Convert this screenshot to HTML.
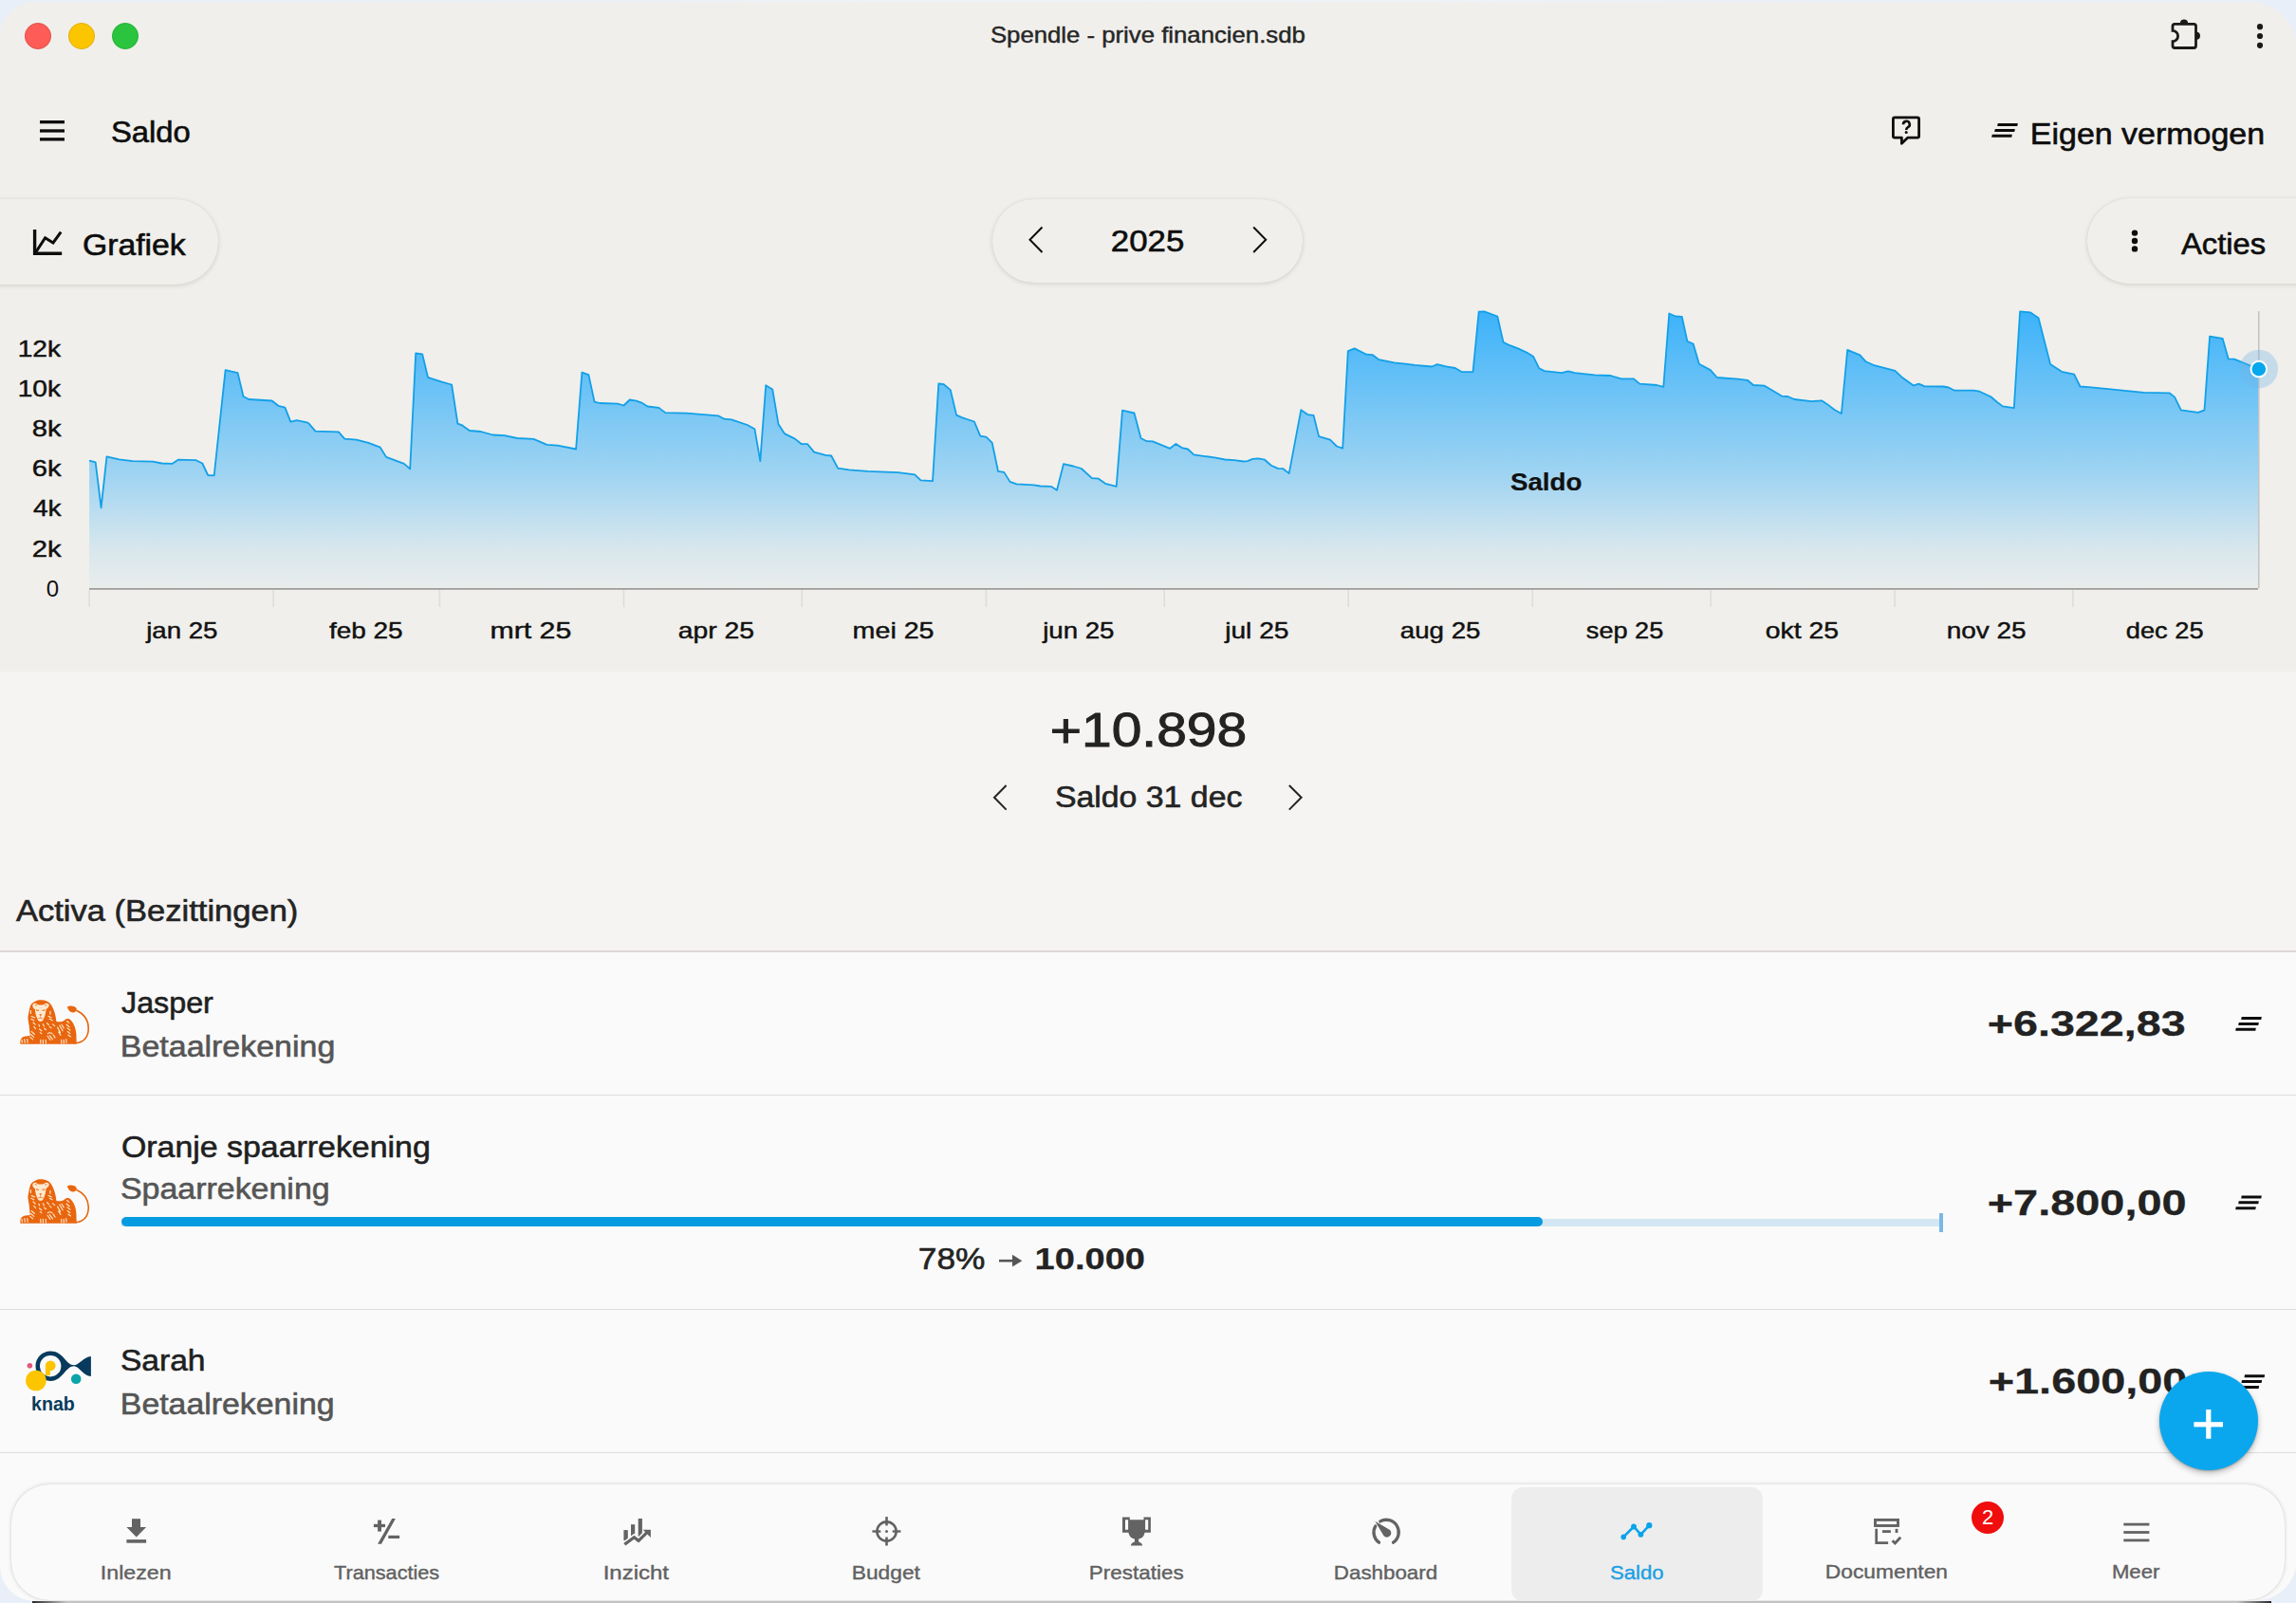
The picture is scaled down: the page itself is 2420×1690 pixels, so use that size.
<!DOCTYPE html>
<html><head><meta charset="utf-8"><style>
html,body{margin:0;padding:0}
body{width:2420px;height:1690px;overflow:hidden;position:relative;background:linear-gradient(90deg,#e9eff8,#eef2f9 50%,#e9eff9);font-family:'Liberation Sans', sans-serif}
.abs{position:absolute}
.t{position:absolute;white-space:pre;line-height:1;font-family:'Liberation Sans', sans-serif}
#win{position:absolute;left:0px;top:1.5px;width:2421px;height:1686.5px;border-radius:37px 50px 45px 37px;overflow:hidden;background:#f0efeb}
.pill{position:absolute;background:#f0efeb;box-shadow:0 1px 5px rgba(40,30,20,0.15),0 0 1px rgba(40,30,20,0.07)}
</style></head><body>
<div class="abs" style="left:34px;top:1687.5px;width:2360px;height:3px;background:linear-gradient(90deg,#262626 0,#c9c9c7 36px,#c9c9c7 2324px,#262626 2360px)"></div>
<div id="win">
 <div class="abs" style="left:-1px;top:706.5px;width:2430px;height:296px;background:#f5f4f2"></div>
 <div class="abs" style="left:-1px;top:1001px;width:2430px;height:700px;background:#fafafa"></div>
 <div class="abs" style="left:-1px;top:1000.7px;width:2430px;height:2.1px;background:#dcd8d5"></div>
 <div class="abs" style="left:-1px;top:1152.2px;width:2430px;height:1.6px;background:#dddddd"></div>
 <div class="abs" style="left:-1px;top:1378.2px;width:2430px;height:1.6px;background:#dddddd"></div>
 <div class="abs" style="left:-1px;top:1529.2px;width:2430px;height:1.6px;background:#dddddd"></div>
</div>
<div id="ov" class="abs" style="left:0;top:0;width:2420px;height:1690px">
<div class="pill" style="left:-60px;top:210px;width:290px;height:90px;border-radius:45px"></div>
<div class="pill" style="left:1046px;top:210px;width:327px;height:88px;border-radius:44px"></div>
<div class="pill" style="left:2200px;top:208.5px;width:300px;height:90.5px;border-radius:45px"></div>
<svg class="abs" style="left:0;top:0" width="2420" height="720" viewBox="0 0 2420 720">
<defs><linearGradient id="gf" gradientUnits="userSpaceOnUse" x1="0" y1="328" x2="0" y2="620">
<stop offset="0" stop-color="#009eff" stop-opacity="0.75"/>
<stop offset="0.6" stop-color="#009eff" stop-opacity="0.33"/>
<stop offset="0.86" stop-color="#009eff" stop-opacity="0.10"/>
<stop offset="1" stop-color="#009eff" stop-opacity="0.03"/>
</linearGradient></defs>
<polygon points="94.1,620 94.1,485.6 100.7,487.3 106.6,535.3 112.5,481.4 125.6,484.4 139.8,486.1 161.1,486.7 170.6,488.5 181.3,488.9 187.8,484.7 206.7,485.2 213.3,488.5 219.2,501.0 225.7,501.3 237.6,390.1 244.1,391.7 250.6,393.1 256.5,418.0 262.4,421.0 286.7,422.5 293.3,427.8 300.4,429.6 306.3,444.7 312.8,443.2 323.5,445.3 325.6,446.6 332.5,454.6 356.9,455.4 363.2,462.6 375.7,463.6 388.3,466.8 400.8,471.7 407.1,481.9 425.9,488.9 432.2,494.4 438.2,372.5 445.2,373.4 451.0,397.8 465.6,402.7 476.1,405.5 482.4,446.6 487.2,448.4 494.9,454.0 506.8,455.0 519.3,458.5 531.8,459.2 545.1,462.0 562.5,462.9 576.4,468.9 587.6,469.6 607.1,473.5 613.4,392.7 620.4,395.1 626.6,423.6 632.2,425.0 651.1,425.7 657.4,427.5 663.7,421.5 670.7,422.6 676.2,424.6 682.5,428.5 694.4,429.9 701.3,435.1 723.6,435.6 757.1,438.3 763.3,441.7 771.0,442.4 787.7,448.0 795.4,452.2 801.3,486.1 807.2,406.2 814.2,410.4 820.5,447.3 826.8,457.1 837.9,462.6 844.9,468.2 851.2,468.2 858.1,476.6 870.0,479.8 876.2,480.5 883.2,493.7 895.0,495.4 914.6,496.8 946.6,498.2 964.2,500.3 970.5,506.3 983.0,507.2 989.3,404.5 994.8,405.2 1001.8,411.1 1008.1,437.6 1014.4,440.3 1026.9,444.5 1033.2,459.6 1039.4,460.6 1045.7,466.8 1052.0,496.8 1058.3,497.9 1064.5,507.9 1071.5,510.3 1089.6,511.4 1096.6,512.5 1107.7,512.8 1114.0,516.7 1121.0,489.1 1131.4,491.5 1139.8,494.0 1150.9,504.2 1157.9,504.7 1164.9,509.8 1176.7,512.8 1183.0,432.7 1195.5,435.5 1202.5,462.0 1208.8,465.2 1215.0,465.4 1233.2,472.8 1239.4,467.9 1245.7,472.1 1252.0,473.5 1258.3,479.4 1280.0,482.4 1291.1,484.5 1300.9,485.2 1310.7,486.5 1314.8,486.1 1320.4,483.8 1326.0,483.3 1333.0,484.7 1339.9,490.7 1346.9,493.9 1352.5,494.2 1358.7,499.1 1371.3,432.2 1378.3,437.1 1384.5,437.8 1390.1,460.1 1402.0,463.6 1408.9,470.5 1415.2,472.6 1420.8,370.2 1427.7,367.4 1440.3,373.7 1446.5,374.1 1453.5,379.2 1469.5,382.4 1483.5,383.8 1491.1,384.8 1509.3,386.5 1514.8,384.1 1523.2,386.2 1533.7,388.0 1540.6,392.1 1552.5,392.1 1558.7,328.6 1564.3,328.4 1578.3,333.5 1584.5,360.8 1590.1,363.6 1600.0,367.4 1609.1,371.6 1616.0,375.7 1622.3,388.3 1627.9,391.1 1646.0,393.2 1653.0,391.4 1659.9,393.2 1680.8,395.3 1697.6,396.0 1708.7,399.4 1722.0,399.4 1728.2,404.6 1746.3,406.0 1753.3,407.8 1759.3,330.5 1765.9,333.5 1772.8,333.9 1778.4,359.7 1784.7,362.5 1790.9,383.8 1802.8,390.1 1809.8,398.0 1832.1,399.7 1841.8,400.8 1848.1,406.0 1859.9,406.7 1878.0,417.6 1884.3,418.0 1891.3,421.0 1909.4,423.1 1920.0,422.3 1925.6,425.9 1933.9,432.2 1940.9,436.0 1947.2,368.8 1960.4,374.4 1966.7,381.3 1974.4,384.8 1997.4,390.8 2004.3,397.4 2016.9,406.4 2022.4,404.7 2028.7,407.4 2048.2,407.5 2053.8,408.5 2060.1,411.7 2080.3,411.7 2086.5,412.7 2098.4,418.3 2104.7,423.8 2110.9,428.4 2122.8,430.1 2129.1,328.4 2140.2,329.5 2148.6,335.3 2161.1,384.1 2173.0,391.8 2186.2,394.6 2192.5,407.5 2201.5,408.1 2219.7,409.9 2259.5,413.8 2286.5,414.3 2292.1,418.6 2298.8,432.3 2316.8,434.8 2323.5,432.3 2329.1,354.6 2342.6,356.8 2348.8,378.4 2355.0,378.7 2380.8,389.1 2380.8,620" fill="url(#gf)"/>
<polyline points="94.1,485.6 100.7,487.3 106.6,535.3 112.5,481.4 125.6,484.4 139.8,486.1 161.1,486.7 170.6,488.5 181.3,488.9 187.8,484.7 206.7,485.2 213.3,488.5 219.2,501.0 225.7,501.3 237.6,390.1 244.1,391.7 250.6,393.1 256.5,418.0 262.4,421.0 286.7,422.5 293.3,427.8 300.4,429.6 306.3,444.7 312.8,443.2 323.5,445.3 325.6,446.6 332.5,454.6 356.9,455.4 363.2,462.6 375.7,463.6 388.3,466.8 400.8,471.7 407.1,481.9 425.9,488.9 432.2,494.4 438.2,372.5 445.2,373.4 451.0,397.8 465.6,402.7 476.1,405.5 482.4,446.6 487.2,448.4 494.9,454.0 506.8,455.0 519.3,458.5 531.8,459.2 545.1,462.0 562.5,462.9 576.4,468.9 587.6,469.6 607.1,473.5 613.4,392.7 620.4,395.1 626.6,423.6 632.2,425.0 651.1,425.7 657.4,427.5 663.7,421.5 670.7,422.6 676.2,424.6 682.5,428.5 694.4,429.9 701.3,435.1 723.6,435.6 757.1,438.3 763.3,441.7 771.0,442.4 787.7,448.0 795.4,452.2 801.3,486.1 807.2,406.2 814.2,410.4 820.5,447.3 826.8,457.1 837.9,462.6 844.9,468.2 851.2,468.2 858.1,476.6 870.0,479.8 876.2,480.5 883.2,493.7 895.0,495.4 914.6,496.8 946.6,498.2 964.2,500.3 970.5,506.3 983.0,507.2 989.3,404.5 994.8,405.2 1001.8,411.1 1008.1,437.6 1014.4,440.3 1026.9,444.5 1033.2,459.6 1039.4,460.6 1045.7,466.8 1052.0,496.8 1058.3,497.9 1064.5,507.9 1071.5,510.3 1089.6,511.4 1096.6,512.5 1107.7,512.8 1114.0,516.7 1121.0,489.1 1131.4,491.5 1139.8,494.0 1150.9,504.2 1157.9,504.7 1164.9,509.8 1176.7,512.8 1183.0,432.7 1195.5,435.5 1202.5,462.0 1208.8,465.2 1215.0,465.4 1233.2,472.8 1239.4,467.9 1245.7,472.1 1252.0,473.5 1258.3,479.4 1280.0,482.4 1291.1,484.5 1300.9,485.2 1310.7,486.5 1314.8,486.1 1320.4,483.8 1326.0,483.3 1333.0,484.7 1339.9,490.7 1346.9,493.9 1352.5,494.2 1358.7,499.1 1371.3,432.2 1378.3,437.1 1384.5,437.8 1390.1,460.1 1402.0,463.6 1408.9,470.5 1415.2,472.6 1420.8,370.2 1427.7,367.4 1440.3,373.7 1446.5,374.1 1453.5,379.2 1469.5,382.4 1483.5,383.8 1491.1,384.8 1509.3,386.5 1514.8,384.1 1523.2,386.2 1533.7,388.0 1540.6,392.1 1552.5,392.1 1558.7,328.6 1564.3,328.4 1578.3,333.5 1584.5,360.8 1590.1,363.6 1600.0,367.4 1609.1,371.6 1616.0,375.7 1622.3,388.3 1627.9,391.1 1646.0,393.2 1653.0,391.4 1659.9,393.2 1680.8,395.3 1697.6,396.0 1708.7,399.4 1722.0,399.4 1728.2,404.6 1746.3,406.0 1753.3,407.8 1759.3,330.5 1765.9,333.5 1772.8,333.9 1778.4,359.7 1784.7,362.5 1790.9,383.8 1802.8,390.1 1809.8,398.0 1832.1,399.7 1841.8,400.8 1848.1,406.0 1859.9,406.7 1878.0,417.6 1884.3,418.0 1891.3,421.0 1909.4,423.1 1920.0,422.3 1925.6,425.9 1933.9,432.2 1940.9,436.0 1947.2,368.8 1960.4,374.4 1966.7,381.3 1974.4,384.8 1997.4,390.8 2004.3,397.4 2016.9,406.4 2022.4,404.7 2028.7,407.4 2048.2,407.5 2053.8,408.5 2060.1,411.7 2080.3,411.7 2086.5,412.7 2098.4,418.3 2104.7,423.8 2110.9,428.4 2122.8,430.1 2129.1,328.4 2140.2,329.5 2148.6,335.3 2161.1,384.1 2173.0,391.8 2186.2,394.6 2192.5,407.5 2201.5,408.1 2219.7,409.9 2259.5,413.8 2286.5,414.3 2292.1,418.6 2298.8,432.3 2316.8,434.8 2323.5,432.3 2329.1,354.6 2342.6,356.8 2348.8,378.4 2355.0,378.7 2380.8,389.1" fill="none" stroke="#12a0e8" stroke-width="1.8" stroke-linejoin="round"/>
<g stroke="#dcdcdc" stroke-width="1.5"><line x1="94.1" y1="622" x2="94.1" y2="640" /><line x1="288.2" y1="622" x2="288.2" y2="640" /><line x1="463.4" y1="622" x2="463.4" y2="640" /><line x1="657.5" y1="622" x2="657.5" y2="640" /><line x1="845.3" y1="622" x2="845.3" y2="640" /><line x1="1039.4" y1="622" x2="1039.4" y2="640" /><line x1="1227.2" y1="622" x2="1227.2" y2="640" /><line x1="1421.2" y1="622" x2="1421.2" y2="640" /><line x1="1615.3" y1="622" x2="1615.3" y2="640" /><line x1="1803.1" y1="622" x2="1803.1" y2="640" /><line x1="1997.1" y1="622" x2="1997.1" y2="640" /><line x1="2184.9" y1="622" x2="2184.9" y2="640" /></g>
<line x1="94" y1="620.8" x2="2380" y2="620.8" stroke="#9d9b9b" stroke-width="1.8"/>
<line x1="2380.8" y1="328" x2="2380.8" y2="620" stroke="#c4c4c4" stroke-width="1.6"/>
<circle cx="2380.8" cy="389.1" r="20.3" fill="#6fb3e6" fill-opacity="0.33"/>
<circle cx="2380.8" cy="389.1" r="8.3" fill="#05a7ee" stroke="#ffffff" stroke-width="1.9"/>
</svg>
<div class="t" style="left:1043.8px;top:25.4px;font-size:24px;font-weight:400;color:#262626;transform-origin:1px 0;transform:scaleX(1.0721);-webkit-text-stroke:0.45px #262626">Spendle - prive financien.sdb</div>
<div class="t" style="left:117.4px;top:123.0px;font-size:32px;font-weight:400;color:#0d0d0d;transform-origin:2px 0;transform:scaleX(1.0253);-webkit-text-stroke:0.60px #0d0d0d">Saldo</div>
<div class="t" style="left:2139.8px;top:124.6px;font-size:32px;font-weight:400;color:#0d0d0d;transform-origin:3px 0;transform:scaleX(1.0610);-webkit-text-stroke:0.60px #0d0d0d">Eigen vermogen</div>
<div class="t" style="left:87.0px;top:242.0px;font-size:32px;font-weight:400;color:#0d0d0d;transform-origin:2px 0;transform:scaleX(1.0554);-webkit-text-stroke:0.60px #0d0d0d">Grafiek</div>
<div class="t" style="left:1171.0px;top:238.0px;font-size:32px;font-weight:400;color:#0d0d0d;transform-origin:2px 0;transform:scaleX(1.0882);-webkit-text-stroke:0.60px #0d0d0d">2025</div>
<div class="t" style="left:2299.0px;top:240.6px;font-size:32px;font-weight:400;color:#0d0d0d;transform-origin:0px 0;transform:scaleX(1.0233);-webkit-text-stroke:0.60px #0d0d0d">Acties</div>
<div class="t" style="left:18.6px;top:356.0px;font-size:24px;font-weight:400;color:#111;transform-origin:2px 0;transform:scaleX(1.1730);-webkit-text-stroke:0.45px #111">12k</div>
<div class="t" style="left:18.6px;top:398.1px;font-size:24px;font-weight:400;color:#111;transform-origin:2px 0;transform:scaleX(1.1730);-webkit-text-stroke:0.45px #111">10k</div>
<div class="t" style="left:33.8px;top:440.2px;font-size:24px;font-weight:400;color:#111;transform-origin:1px 0;transform:scaleX(1.2167);-webkit-text-stroke:0.45px #111">8k</div>
<div class="t" style="left:33.8px;top:482.3px;font-size:24px;font-weight:400;color:#111;transform-origin:1px 0;transform:scaleX(1.2167);-webkit-text-stroke:0.45px #111">6k</div>
<div class="t" style="left:34.8px;top:524.4px;font-size:24px;font-weight:400;color:#111;transform-origin:0px 0;transform:scaleX(1.1680);-webkit-text-stroke:0.45px #111">4k</div>
<div class="t" style="left:33.8px;top:566.5px;font-size:24px;font-weight:400;color:#111;transform-origin:1px 0;transform:scaleX(1.2167);-webkit-text-stroke:0.45px #111">2k</div>
<div class="t" style="left:48.8px;top:608.6px;font-size:24px;font-weight:400;color:#111;letter-spacing:0.00px">0</div>
<div class="t" style="left:1591.6px;top:496.0px;font-size:25px;font-weight:700;color:#111;transform-origin:1px 0;transform:scaleX(1.1091);-webkit-text-stroke:0.20px #111">Saldo</div>
<div class="t" style="left:1107.4px;top:745.3px;font-size:50px;font-weight:400;color:#232323;transform-origin:2px 0;transform:scaleX(1.1388);-webkit-text-stroke:0.94px #232323">+10.898</div>
<div class="t" style="left:1111.5px;top:824.3px;font-size:32px;font-weight:400;color:#232323;transform-origin:2px 0;transform:scaleX(1.0571);-webkit-text-stroke:0.60px #232323">Saldo 31 dec</div>
<div class="t" style="left:17.0px;top:944.3px;font-size:32px;font-weight:400;color:#232323;transform-origin:0px 0;transform:scaleX(1.0785);-webkit-text-stroke:0.60px #232323">Activa (Bezittingen)</div>
<div class="t" style="left:127.5px;top:1040.9px;font-size:32px;font-weight:400;color:#1f1f1f;transform-origin:1px 0;transform:scaleX(1.0084);-webkit-text-stroke:0.60px #1f1f1f">Jasper</div>
<div class="t" style="left:127.0px;top:1087.0px;font-size:32px;font-weight:400;color:#555555;transform-origin:3px 0;transform:scaleX(1.0608);-webkit-text-stroke:0.60px #555555">Betaalrekening</div>
<div class="t" style="left:2095.3px;top:1061.2px;font-size:37px;font-weight:700;color:#222222;transform-origin:1px 0;transform:scaleX(1.2613);-webkit-text-stroke:0.29px #222222">+6.322,83</div>
<div class="t" style="left:128.0px;top:1192.7px;font-size:32px;font-weight:400;color:#1f1f1f;transform-origin:1px 0;transform:scaleX(1.0587);-webkit-text-stroke:0.60px #1f1f1f">Oranje spaarrekening</div>
<div class="t" style="left:127.0px;top:1237.3px;font-size:32px;font-weight:400;color:#555555;transform-origin:2px 0;transform:scaleX(1.0608);-webkit-text-stroke:0.60px #555555">Spaarrekening</div>
<div class="t" style="left:2095.3px;top:1250.4px;font-size:37px;font-weight:700;color:#222222;transform-origin:1px 0;transform:scaleX(1.2669);-webkit-text-stroke:0.29px #222222">+7.800,00</div>
<div class="t" style="left:968.4px;top:1311.4px;font-size:32px;font-weight:400;color:#232323;transform-origin:2px 0;transform:scaleX(1.1016);-webkit-text-stroke:0.60px #232323">78%</div>
<div class="t" style="left:1091.3px;top:1311.4px;font-size:32px;font-weight:700;color:#232323;transform-origin:2px 0;transform:scaleX(1.1884);-webkit-text-stroke:0.25px #232323">10.000</div>
<div class="t" style="left:127.0px;top:1418.4px;font-size:32px;font-weight:400;color:#1f1f1f;transform-origin:2px 0;transform:scaleX(1.0494);-webkit-text-stroke:0.60px #1f1f1f">Sarah</div>
<div class="t" style="left:127.0px;top:1463.8px;font-size:32px;font-weight:400;color:#555555;transform-origin:3px 0;transform:scaleX(1.0574);-webkit-text-stroke:0.60px #555555">Betaalrekening</div>
<div class="t" style="left:2095.5px;top:1438.1px;font-size:37px;font-weight:700;color:#222222;transform-origin:1px 0;transform:scaleX(1.2656);-webkit-text-stroke:0.29px #222222">+1.600,00</div>
<div class="t" style="left:154.1px;top:652.8px;font-size:24px;font-weight:400;color:#111;transform-origin:-1px 0;transform:scaleX(1.1515);-webkit-text-stroke:0.45px #111">jan 25</div>
<div class="t" style="left:346.8px;top:652.8px;font-size:24px;font-weight:400;color:#111;transform-origin:0px 0;transform:scaleX(1.1636);-webkit-text-stroke:0.45px #111">feb 25</div>
<div class="t" style="left:517.4px;top:652.8px;font-size:24px;font-weight:400;color:#111;transform-origin:2px 0;transform:scaleX(1.2615);-webkit-text-stroke:0.45px #111">mrt 25</div>
<div class="t" style="left:714.6px;top:652.8px;font-size:24px;font-weight:400;color:#111;transform-origin:1px 0;transform:scaleX(1.1788);-webkit-text-stroke:0.45px #111">apr 25</div>
<div class="t" style="left:899.1px;top:652.8px;font-size:24px;font-weight:400;color:#111;transform-origin:2px 0;transform:scaleX(1.1928);-webkit-text-stroke:0.45px #111">mei 25</div>
<div class="t" style="left:1099.4px;top:652.8px;font-size:24px;font-weight:400;color:#111;transform-origin:-1px 0;transform:scaleX(1.1515);-webkit-text-stroke:0.45px #111">jun 25</div>
<div class="t" style="left:1291.2px;top:652.8px;font-size:24px;font-weight:400;color:#111;transform-origin:-1px 0;transform:scaleX(1.1724);-webkit-text-stroke:0.45px #111">jul 25</div>
<div class="t" style="left:1475.7px;top:652.8px;font-size:24px;font-weight:400;color:#111;transform-origin:1px 0;transform:scaleX(1.1528);-webkit-text-stroke:0.45px #111">aug 25</div>
<div class="t" style="left:1671.8px;top:652.8px;font-size:24px;font-weight:400;color:#111;transform-origin:1px 0;transform:scaleX(1.1286);-webkit-text-stroke:0.45px #111">sep 25</div>
<div class="t" style="left:1861.3px;top:652.8px;font-size:24px;font-weight:400;color:#111;transform-origin:1px 0;transform:scaleX(1.1797);-webkit-text-stroke:0.45px #111">okt 25</div>
<div class="t" style="left:2052.0px;top:652.8px;font-size:24px;font-weight:400;color:#111;transform-origin:2px 0;transform:scaleX(1.1638);-webkit-text-stroke:0.45px #111">nov 25</div>
<div class="t" style="left:2241.3px;top:652.8px;font-size:24px;font-weight:400;color:#111;transform-origin:1px 0;transform:scaleX(1.1329);-webkit-text-stroke:0.45px #111">dec 25</div>
<svg class="abs" style="left:25px;top:22.6px;" width="30" height="30" viewBox="0 0 30 30"><circle cx="15" cy="15" r="13.6" fill="#fe5c56" stroke="#d9443d" stroke-width="0.8"/></svg>
<svg class="abs" style="left:71px;top:22.6px;" width="30" height="30" viewBox="0 0 30 30"><circle cx="15" cy="15" r="13.6" fill="#fbc500" stroke="#dea500" stroke-width="0.8"/></svg>
<svg class="abs" style="left:116.69999999999999px;top:22.6px;" width="30" height="30" viewBox="0 0 30 30"><circle cx="15" cy="15" r="13.6" fill="#2ac43f" stroke="#1aab29" stroke-width="0.8"/></svg>
<svg class="abs" style="left:0;top:0;overflow:visible" width="2420" height="1690" viewBox="0 0 2420 1690"><path d="M2292.2 25.3 H2312.3 A2.2 2.2 0 0 1 2314.5 27.5 V48.3 A2.2 2.2 0 0 1 2312.3 50.5 H2292.2 A2.2 2.2 0 0 1 2290 48.3 V43.6 A5.6 5.6 0 0 0 2290 32.4 V27.5 A2.2 2.2 0 0 1 2292.2 25.3 Z" fill="none" stroke="#1a1a1a" stroke-width="2.8"/><path d="M2297.9 24.5 A4.1 4.1 0 0 1 2306.1 24.5 Z" fill="#1a1a1a"/><path d="M2315 33.7 A4 4 0 0 1 2315 41.7 Z" fill="#1a1a1a"/><circle cx="2382" cy="28.2" r="3.1" fill="#1a1a1a"/><circle cx="2382" cy="38" r="3.1" fill="#1a1a1a"/><circle cx="2382" cy="47.8" r="3.1" fill="#1a1a1a"/><rect x="42" y="127" width="26" height="3.3" fill="#0d0d0d"/><rect x="42" y="136.3" width="26" height="3.3" fill="#0d0d0d"/><rect x="42" y="145.2" width="26" height="3.3" fill="#0d0d0d"/><path d="M1997 123.8 H2021 A1.6 1.6 0 0 1 2022.6 125.4 V143.6 A1.6 1.6 0 0 1 2021 145.2 H2010.6 L2004.4 151.2 V145.2 H1997 A1.6 1.6 0 0 1 1995.4 143.6 V125.4 A1.6 1.6 0 0 1 1997 123.8 Z" fill="none" stroke="#0d0d0d" stroke-width="2.8" stroke-linejoin="round"/><path d="M2006 131.2 A3.4 3.4 0 1 1 2011 134.2 C2009.6 135 2009.2 135.6 2009.2 137" fill="none" stroke="#0d0d0d" stroke-width="2.6"/><circle cx="2009.2" cy="139.6" r="1.5" fill="#0d0d0d"/><path d="M2105.7 130.0 H2126.8 L2126.3 133.0 H2105.2 Z" fill="#0d0d0d"/><path d="M2102.7 135.9 H2123.8 L2123.3 138.9 H2102.2 Z" fill="#0d0d0d"/><path d="M2099.7 141.8 H2120.8 L2120.3 144.8 H2099.2 Z" fill="#0d0d0d"/><path d="M2362.7 1072.0 H2383.8 L2383.3 1075.0 H2362.2 Z" fill="#0d0d0d"/><path d="M2359.7 1077.9 H2380.8 L2380.3 1080.9 H2359.2 Z" fill="#0d0d0d"/><path d="M2356.7 1083.8 H2377.8 L2377.3 1086.8 H2356.2 Z" fill="#0d0d0d"/><path d="M2362.7 1260.4 H2383.8 L2383.3 1263.4 H2362.2 Z" fill="#0d0d0d"/><path d="M2359.7 1266.3 H2380.8 L2380.3 1269.3 H2359.2 Z" fill="#0d0d0d"/><path d="M2356.7 1272.2 H2377.8 L2377.3 1275.2 H2356.2 Z" fill="#0d0d0d"/><path d="M2366.0 1449.2 H2387.1 L2386.6 1452.2 H2365.5 Z" fill="#0d0d0d"/><path d="M2363.0 1455.1 H2384.1 L2383.6 1458.1 H2362.5 Z" fill="#0d0d0d"/><path d="M2360.0 1461.0 H2381.1 L2380.6 1464.0 H2359.5 Z" fill="#0d0d0d"/><path d="M36.6 242 V267.3 H65.2" fill="none" stroke="#0d0d0d" stroke-width="3.4"/><path d="M37.5 266.2 L47.6 250.8 L56 256 L64.2 244.6" fill="none" stroke="#0d0d0d" stroke-width="3"/><path d="M1098.5 239.5 L1085.5 252.75 L1098.5 266" fill="none" stroke="#0d0d0d" stroke-width="2.0"/><path d="M1321.2 239.5 L1334.2 252.75 L1321.2 266" fill="none" stroke="#0d0d0d" stroke-width="2.0"/><path d="M1060.6 828 L1048 840.8 L1060.6 853.6" fill="none" stroke="#232323" stroke-width="2.0"/><path d="M1358.8 828 L1371.6 840.8 L1358.8 853.6" fill="none" stroke="#232323" stroke-width="2.0"/><circle cx="2250" cy="245.6" r="3.2" fill="#0d0d0d"/><circle cx="2250" cy="254" r="3.2" fill="#0d0d0d"/><circle cx="2250" cy="262.4" r="3.2" fill="#0d0d0d"/><path d="M1053 1329.2 H1068" stroke="#555" stroke-width="2.6"/><path d="M1067 1322.8 L1077.3 1329.2 L1067 1335.6 Z" fill="#555"/><path d="M53.2 1424.5 C60 1424.5 64 1428 68 1432.5 C71.5 1436.5 74 1439.2 78 1439.2 C83 1439.2 88 1430.5 95.9 1429.9 V1451 C88 1450.5 83 1440.2 78 1440.2 C74 1440.2 71.5 1443 68 1447 C64 1451.5 60 1455.9 53.2 1455.9 A15.7 15.7 0 0 1 53.2 1424.5 Z" fill="#073a5c"/><circle cx="53.2" cy="1440.2" r="11.2" fill="#fafafa"/><circle cx="53.2" cy="1439.8" r="5.4" fill="#fdc400"/><rect x="47.9" y="1440" width="5" height="10" fill="#fdc400"/><circle cx="37.9" cy="1455.5" r="10.8" fill="#fdc400"/><circle cx="31.4" cy="1439.8" r="2.8" fill="#e2587a"/><circle cx="80.2" cy="1453.7" r="5.3" fill="#0aa5a8"/><text x="33" y="1486.9" font-family="Liberation Sans" font-weight="700" font-size="20" fill="#073a5c" textLength="45.8" lengthAdjust="spacingAndGlyphs">knab</text></svg>
<div class="abs" style="left:128px;top:1285px;width:1920px;height:8px;background:#d3e6f3"></div>
<div class="abs" style="left:128px;top:1282.6px;width:1498px;height:10.4px;border-radius:5.2px;background:#069be0"></div>
<div class="abs" style="left:2044px;top:1279px;width:4px;height:20px;background:#79b8e6"></div>
<svg class="abs" style="left:16.0px;top:1048.0px" width="84" height="58" viewBox="0 0 2296 1585"><path d="M150 1440 C135 1350 160 1250 260 1225 C330 1210 400 1215 430 1195 C420 1100 410 1000 400 900 C385 820 360 700 370 640 C390 560 400 460 430 360 C460 270 560 190 700 170 C860 160 960 210 1020 290 C1090 380 1130 500 1160 620 C1175 700 1180 760 1190 790 C1280 810 1380 800 1430 745 C1480 700 1560 700 1620 770 C1700 860 1750 1000 1760 1150 C1765 1250 1762 1350 1770 1440 Z" fill="#e8660f"/>
<path d="M1740 1415 C1990 1400 2120 1220 2110 960 C2100 720 1960 560 1760 470" fill="none" stroke="#e8660f" stroke-width="44"/>
<path d="M1500 370 C1560 320 1700 330 1760 400 C1790 440 1760 520 1680 530 C1600 540 1520 470 1500 370 Z" fill="#e8660f"/>
<path d="M500 320 C520 260 600 250 640 300 C680 320 780 320 830 300 C880 250 970 260 980 330 C960 400 910 420 890 440 C880 560 860 650 800 760 C780 800 680 800 660 760 C600 650 580 560 570 440 C540 420 500 390 500 320 Z" fill="#fde9cf"/>
<path d="M560 330 C580 300 620 300 630 340 Z M850 340 C860 300 900 300 920 330 Z" fill="#e8660f"/>
<path d="M600 460 L680 480 M780 480 L860 460" stroke="#e8660f" stroke-width="28"/>
<path d="M690 580 L770 580 L730 640 Z" fill="#e8660f"/>
<path d="M730 640 V690 M660 700 H800" stroke="#e8660f" stroke-width="18"/>
<g stroke="#fde3c2" stroke-width="32" stroke-linecap="round" fill="none">
<path d="M470 1080 L560 1160 M450 1160 L540 1240 M430 1240 L510 1310"/>
<path d="M1220 960 L1300 1110 M1280 900 L1370 1060 M1250 1090 L1310 1190 M1340 880 L1400 980"/>
<path d="M1490 780 L1550 830 M1480 880 L1560 950 M1500 980 L1580 1040 M1510 1080 L1580 1140 M1530 1180 L1600 1230"/>
<path d="M940 1140 C980 1100 1050 1110 1070 1150 M930 1210 L1010 1320 M990 1190 L1080 1310 M1100 1180 L1150 1260"/>
<path d="M520 820 L580 880 M680 880 L700 930 M800 870 L830 930 M920 840 L970 890 M1080 870 L1140 920 M540 940 L590 1000 M700 1010 L760 1060 M840 990 L890 1030 M990 940 L1040 980 M720 1110 L760 1140"/>
<path d="M190 1320 L200 1400 M270 1300 L280 1400 M350 1300 L360 1400 M730 1320 L735 1420 M800 1320 L805 1420 M880 1320 L885 1420 M1330 1320 L1335 1420 M1400 1320 L1405 1420 M1470 1300 L1475 1400"/>
<path d="M460 720 L540 760 M990 720 L1070 760 M450 480 L450 560 M1010 500 L1010 580 M470 640 L560 680 M960 640 L1040 680"/>
</g></svg>
<svg class="abs" style="left:15.7px;top:1236.8px" width="84" height="58" viewBox="0 0 2296 1585"><path d="M150 1440 C135 1350 160 1250 260 1225 C330 1210 400 1215 430 1195 C420 1100 410 1000 400 900 C385 820 360 700 370 640 C390 560 400 460 430 360 C460 270 560 190 700 170 C860 160 960 210 1020 290 C1090 380 1130 500 1160 620 C1175 700 1180 760 1190 790 C1280 810 1380 800 1430 745 C1480 700 1560 700 1620 770 C1700 860 1750 1000 1760 1150 C1765 1250 1762 1350 1770 1440 Z" fill="#e8660f"/>
<path d="M1740 1415 C1990 1400 2120 1220 2110 960 C2100 720 1960 560 1760 470" fill="none" stroke="#e8660f" stroke-width="44"/>
<path d="M1500 370 C1560 320 1700 330 1760 400 C1790 440 1760 520 1680 530 C1600 540 1520 470 1500 370 Z" fill="#e8660f"/>
<path d="M500 320 C520 260 600 250 640 300 C680 320 780 320 830 300 C880 250 970 260 980 330 C960 400 910 420 890 440 C880 560 860 650 800 760 C780 800 680 800 660 760 C600 650 580 560 570 440 C540 420 500 390 500 320 Z" fill="#fde9cf"/>
<path d="M560 330 C580 300 620 300 630 340 Z M850 340 C860 300 900 300 920 330 Z" fill="#e8660f"/>
<path d="M600 460 L680 480 M780 480 L860 460" stroke="#e8660f" stroke-width="28"/>
<path d="M690 580 L770 580 L730 640 Z" fill="#e8660f"/>
<path d="M730 640 V690 M660 700 H800" stroke="#e8660f" stroke-width="18"/>
<g stroke="#fde3c2" stroke-width="32" stroke-linecap="round" fill="none">
<path d="M470 1080 L560 1160 M450 1160 L540 1240 M430 1240 L510 1310"/>
<path d="M1220 960 L1300 1110 M1280 900 L1370 1060 M1250 1090 L1310 1190 M1340 880 L1400 980"/>
<path d="M1490 780 L1550 830 M1480 880 L1560 950 M1500 980 L1580 1040 M1510 1080 L1580 1140 M1530 1180 L1600 1230"/>
<path d="M940 1140 C980 1100 1050 1110 1070 1150 M930 1210 L1010 1320 M990 1190 L1080 1310 M1100 1180 L1150 1260"/>
<path d="M520 820 L580 880 M680 880 L700 930 M800 870 L830 930 M920 840 L970 890 M1080 870 L1140 920 M540 940 L590 1000 M700 1010 L760 1060 M840 990 L890 1030 M990 940 L1040 980 M720 1110 L760 1140"/>
<path d="M190 1320 L200 1400 M270 1300 L280 1400 M350 1300 L360 1400 M730 1320 L735 1420 M800 1320 L805 1420 M880 1320 L885 1420 M1330 1320 L1335 1420 M1400 1320 L1405 1420 M1470 1300 L1475 1400"/>
<path d="M460 720 L540 760 M990 720 L1070 760 M450 480 L450 560 M1010 500 L1010 580 M470 640 L560 680 M960 640 L1040 680"/>
</g></svg>
<div class="abs" style="left:2276px;top:1446px;width:104px;height:104px;border-radius:52px;background:#0aa7ee;box-shadow:0 3px 6px rgba(0,0,0,0.25),0 1px 2px rgba(0,0,0,0.2)"></div>
<svg class="abs" style="left:2310px;top:1484px;" width="36" height="36" viewBox="0 0 36 36"><rect x="2.4" y="15.2" width="30.6" height="5.2" fill="#fff"/><rect x="15.2" y="2" width="5.2" height="30.8" fill="#fff"/></svg>
<div class="abs" style="left:11.5px;top:1565px;width:2396px;height:122.4px;border-radius:40px;background:#fafafa;box-shadow:0 0 4px rgba(0,0,0,0.16),0 0 1px rgba(0,0,0,0.12)"></div>
<div class="abs" style="left:1593px;top:1568.3px;width:264.5px;height:119.3px;border-radius:12px;background:#ededed"></div>
<svg class="abs" style="left:0;top:0;overflow:visible" width="2420" height="1690" viewBox="0 0 2420 1690"><rect x="139" y="1601.2" width="9" height="9.4" fill="#636363"/><path d="M133.4 1610.1 H154.1 L143.75 1620.4 Z" fill="#636363"/><rect x="133.4" y="1623.1" width="20.7" height="3.6" fill="#636363"/><rect x="393.9" y="1606.8" width="12.1" height="3.3" fill="#636363"/><rect x="398.1" y="1602.6" width="3.9" height="12" fill="#636363"/><path d="M413.2 1601 H416.9 L402 1627.7 H398.1 Z" fill="#636363"/><rect x="409.3" y="1618.8" width="11.8" height="3.2" fill="#636363"/><path d="M657.4 1613.1 H661.8 V1624 H657.4 Z" fill="#636363"/><path d="M665 1607.2 H669.2 V1621 H665 Z" fill="#636363"/><path d="M672.7 1601 H676.9 V1620 H672.7 Z" fill="#636363"/><path d="M658.3 1628.3 L668.4 1620.8 L673 1624.4 L683 1614.6" fill="none" stroke="#fafafa" stroke-width="6.3"/><path d="M658.3 1628.3 L668.4 1620.8 L673 1624.4 L683 1614.6" fill="none" stroke="#636363" stroke-width="3.3"/><path d="M677.6 1612.8 H685.9 V1621 Z" fill="#636363"/><circle cx="934.5" cy="1614.5" r="10.15" fill="none" stroke="#636363" stroke-width="2.6"/><rect x="933.2" y="1599.1" width="2.6" height="9.3" fill="#636363"/><rect x="933.2" y="1620.5" width="2.6" height="9" fill="#636363"/><rect x="919.4" y="1613.3" width="8.9" height="2.4" fill="#636363"/><rect x="940.7" y="1613.3" width="8.7" height="2.4" fill="#636363"/><circle cx="934.5" cy="1614.5" r="1.5" fill="#636363"/><path d="M1183 1599.4 H1190.8 V1602.3 H1205.5 V1599.4 H1212.9 V1615.7 H1206.6 C1206 1619.5 1203.5 1622 1200.1 1622.6 V1625.5 C1202 1625.8 1203.6 1627 1204.2 1629.5 H1191.8 C1192.4 1627 1194 1625.8 1195.9 1625.5 V1622.6 C1192.5 1622 1190 1619.5 1189.4 1615.7 H1183 Z M1186 1602.3 V1612.8 H1189.1 V1602.3 Z M1207.1 1602.3 V1612.8 H1210.2 V1602.3 Z" fill="#636363" fill-rule="evenodd"/><path d="M1453.5 1626.2 A13.1 13.1 0 0 1 1449.7 1609.0" fill="none" stroke="#636363" stroke-width="3.3" stroke-linecap="round"/><path d="M1454.8 1603.9 A13.1 13.1 0 0 1 1468.5 1626.2" fill="none" stroke="#636363" stroke-width="3.3" stroke-linecap="round"/><path d="M1449.3 1603.7 L1465 1612.9 A4.5 4.5 0 0 1 1458.5 1619.3 Z" fill="#636363"/><polyline points="1711.2,1620.4 1722,1609.5 1729.4,1617.8 1738.3,1608.2" fill="none" stroke="#0aa3ea" stroke-width="2.6"/><circle cx="1711.2" cy="1620.4" r="2.8" fill="#0aa3ea"/><circle cx="1722" cy="1609.5" r="2.9" fill="#0aa3ea"/><circle cx="1729.4" cy="1617.8" r="2.9" fill="#0aa3ea"/><circle cx="1738.3" cy="1608.2" r="3.1" fill="#0aa3ea"/><rect x="1976.5" y="1602.4" width="24" height="6.1" fill="none" stroke="#636363" stroke-width="2.9"/><path d="M1977.7 1611.8 V1626.7 H1990.1" fill="none" stroke="#636363" stroke-width="2.7"/><rect x="1984" y="1613.2" width="8.9" height="2.8" fill="#636363"/><rect x="1997.6" y="1611.8" width="2.8" height="4.2" fill="#636363"/><path d="M1994.6 1624.2 L1997.4 1627 L2003.2 1620.8" fill="none" stroke="#636363" stroke-width="2.9"/><rect x="2238.3" y="1605.7" width="27.1" height="2.8" fill="#636363"/><rect x="2238.3" y="1614.1" width="27.1" height="2.8" fill="#636363"/><rect x="2238.3" y="1622.5" width="27.1" height="2.8" fill="#636363"/></svg>
<div class="abs" style="left:2078px;top:1583px;width:34px;height:34px;border-radius:17px;background:#f00d0d"></div>
<div class="t" style="left:105.7px;top:1647.0px;font-size:21px;font-weight:400;color:#616161;transform-origin:2px 0;transform:scaleX(1.1062);-webkit-text-stroke:0.39px #616161">Inlezen</div>
<div class="t" style="left:351.8px;top:1647.0px;font-size:21px;font-weight:400;color:#616161;transform-origin:0px 0;transform:scaleX(1.0318);-webkit-text-stroke:0.39px #616161">Transacties</div>
<div class="t" style="left:635.9px;top:1647.0px;font-size:21px;font-weight:400;color:#616161;transform-origin:2px 0;transform:scaleX(1.1407);-webkit-text-stroke:0.39px #616161">Inzicht</div>
<div class="t" style="left:897.8px;top:1647.0px;font-size:21px;font-weight:400;color:#616161;transform-origin:2px 0;transform:scaleX(1.0815);-webkit-text-stroke:0.39px #616161">Budget</div>
<div class="t" style="left:1147.6px;top:1647.0px;font-size:21px;font-weight:400;color:#616161;transform-origin:2px 0;transform:scaleX(1.0681);-webkit-text-stroke:0.39px #616161">Prestaties</div>
<div class="t" style="left:1406.3px;top:1647.0px;font-size:21px;font-weight:400;color:#616161;transform-origin:2px 0;transform:scaleX(1.0630);-webkit-text-stroke:0.39px #616161">Dashboard</div>
<div class="t" style="left:1696.6px;top:1647.0px;font-size:21px;font-weight:400;color:#1c9fe3;transform-origin:1px 0;transform:scaleX(1.0538);-webkit-text-stroke:0.39px #1c9fe3">Saldo</div>
<div class="t" style="left:1923.7px;top:1646.0px;font-size:21px;font-weight:400;color:#616161;transform-origin:2px 0;transform:scaleX(1.0845);-webkit-text-stroke:0.39px #616161">Documenten</div>
<div class="t" style="left:2226.4px;top:1646.0px;font-size:21px;font-weight:400;color:#616161;transform-origin:2px 0;transform:scaleX(1.0543);-webkit-text-stroke:0.39px #616161">Meer</div>
<div class="t" style="left:2089.0px;top:1589.0px;font-size:22px;font-weight:400;color:#ffffff;letter-spacing:0.00px">2</div>
</div>
</body></html>
